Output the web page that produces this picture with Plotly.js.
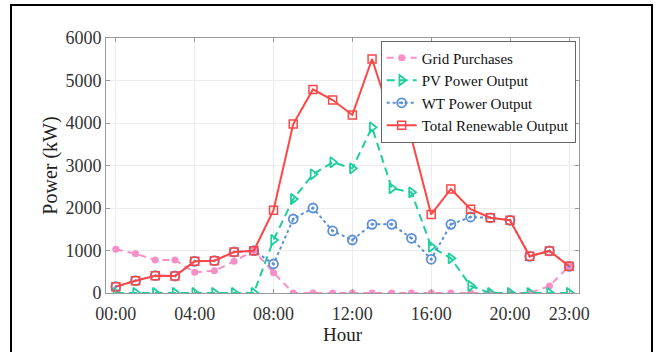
<!DOCTYPE html>
<html>
<head>
<meta charset="utf-8">
<script src="https://cdn.plot.ly/plotly-3.0.1.min.js"></script>
<style>
  html, body { margin: 0; padding: 0; background: #fff; }
  #frame { position: absolute; left: 10px; top: 4px; width: 639px; height: 360px;
           border-left: 2px solid #000; border-right: 2px solid #000; border-top: 2px solid #000;
           pointer-events: none; z-index: 10; }
  #chart { width: 659px; height: 352px; }
</style>
</head>
<body>
<div id="frame"></div>
<div id="chart"></div>
<script>
const hours = [0,1,2,3,4,5,6,7,8,9,10,11,12,13,14,15,16,17,18,19,20,21,22,23];
const tickVals = [0,4,8,12,16,20,23];
const tickText = ["00:00","04:00","08:00","12:00","16:00","20:00","23:00"];

const gridPurchases = [1028,925,776,776,487,525,745,1000,478,0,0,0,0,0,0,0,0,0,0,0,0,0,165,630];
const pvOutput      = [0,0,0,0,0,0,0,0,1247,2212,2793,3075,2933,3898,2463,2369,1090,816,165,0,0,0,0,0];
const wtOutput      = [150,290,407,400,745,760,965,995,682,1741,2000,1460,1247,1615,1615,1287,793,1615,1788,1770,1710,863,990,628];
const totalOutput   = [150,290,407,400,745,760,965,995,1950,3975,4790,4540,4190,5505,4070,3640,1850,2447,1970,1770,1710,863,990,628];

const traces = [
  { x: hours, y: gridPurchases, name: "Grid Purchases", mode: "lines+markers",
    line: { color: "#f78fc6", width: 2, dash: "7px,5px" },
    marker: { symbol: "circle", size: 7, color: "#f78fc6" } },
  { x: hours, y: pvOutput, name: "PV Power Output", mode: "lines+markers",
    line: { color: "#1ccf9c", width: 2, dash: "8px,5px" },
    marker: { symbol: "triangle-right-open", size: 9, color: "#1ccf9c", line: { width: 1.8 } } },
  { x: hours, y: wtOutput, name: "WT Power Output", mode: "lines+markers",
    line: { color: "#5b8fd6", width: 2, dash: "dot" },
    marker: { symbol: "circle-open-dot", size: 9, color: "#5b8fd6", line: { width: 1.8 } } },
  { x: hours, y: totalOutput, name: "Total Renewable Output", mode: "lines+markers",
    line: { color: "#ff4646", width: 2 },
    marker: { symbol: "square-open", size: 8, color: "#ff4646", line: { width: 1.5 } } }
];

const layout = {
  width: 659, height: 352,
  margin: { l: 106, r: 80, t: 38, b: 59 },
  paper_bgcolor: "#fff", plot_bgcolor: "#fff",
  font: { family: "Liberation Serif", color: "#222", size: 18 },
  showlegend: true,
  legend: { x: 0.993, y: 0.99, xanchor: "right", yanchor: "top",
            bgcolor: "#fff", bordercolor: "#666", borderwidth: 1,
            font: { family: "Liberation Serif", size: 15, color: "#111" }, tracegroupgap: 0 },
  xaxis: {
    range: [-0.5, 23.5], tickvals: tickVals, ticktext: tickText,
    showgrid: true, gridcolor: "#ececec", gridwidth: 1,
    showline: true, linecolor: "#999", linewidth: 1, mirror: "ticks",
    ticks: "inside", ticklen: 4, tickcolor: "#999", ticklabelstandoff: 4,
    zeroline: false, tickfont: { family: "Liberation Serif", size: 18, color: "#333" },
    title: { text: "Hour", font: { family: "Liberation Serif", size: 19, color: "#222" }, standoff: 0 }
  },
  yaxis: {
    range: [0, 6000], tickvals: [0,1000,2000,3000,4000,5000,6000],
    showgrid: true, gridcolor: "#ececec", gridwidth: 1,
    showline: true, linecolor: "#999", linewidth: 1, mirror: "ticks",
    ticks: "inside", ticklen: 4, tickcolor: "#999",
    zeroline: false, tickfont: { family: "Liberation Serif", size: 18, color: "#333" },
    title: { text: "Power (kW)", font: { family: "Liberation Serif", size: 20, color: "#222" }, standoff: 2 }
  }
};

Plotly.newPlot("chart", traces, layout, { displayModeBar: false, staticPlot: true });
</script>
</body>
</html>
